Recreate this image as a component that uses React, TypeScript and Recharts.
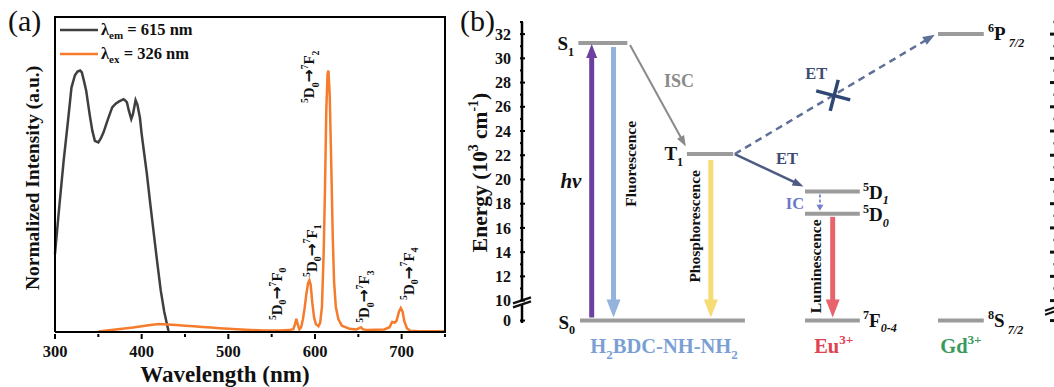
import React from 'react';
import { ComposedChart, Line, XAxis, YAxis, ReferenceLine, ReferenceDot, Legend } from 'recharts';

const SERIF = '"Liberation Serif", "Times New Roman", Times, serif';

// ---------------- Panel (a): spectra ----------------
const excitationWavelength = [300, 305, 310, 315, 319, 323, 326, 329, 331, 334, 336, 340, 343, 346, 350, 353, 356, 361, 366, 370, 374, 377, 379, 381, 383, 385, 388, 390, 393, 395, 398, 400, 403, 406, 410, 414, 418, 422, 426, 429, 431];
const excitationIntensity = [24.8, 40, 54.4, 67, 77.6, 81.5, 82.7, 83, 82.4, 79, 76.6, 69, 64, 60.7, 60.2, 61.5, 63.4, 67.5, 71.3, 72.5, 73.2, 73.6, 73.9, 73.5, 72.9, 70.5, 67.6, 69.2, 73.6, 72.3, 68, 62.8, 56.5, 50.2, 40.5, 31.2, 22, 13.2, 6.5, 2.7, 0.3];

const emissionWavelength = [350, 360, 370, 380, 390, 400, 410, 420, 430, 440, 450, 460, 470, 480, 490, 500, 520, 540, 560, 570, 575, 577, 578.5, 580, 582, 584, 586, 588, 590, 592, 593.5, 595, 597, 599, 601, 604, 606, 608, 610, 611.5, 613, 614.5, 615.5, 617, 619, 620.5, 622, 624, 627, 631, 640, 648, 651, 653, 655, 660, 680, 686, 689, 692, 694, 697, 699, 701, 703, 706, 710, 720, 735, 750];
const emissionIntensity = [0.2, 0.5, 0.8, 1.1, 1.4, 1.8, 2.2, 2.5, 2.4, 2.2, 2.0, 1.8, 1.6, 1.4, 1.2, 1.0, 0.7, 0.5, 0.5, 0.6, 0.9, 2.5, 4.2, 2.5, 0.8, 1.5, 4, 7.5, 12, 15.5, 16.4, 15, 9, 4.5, 2.5, 1.8, 3, 8, 25, 45, 70, 82, 83, 75, 50, 30, 16, 8, 4, 2, 1, 0.8, 1.2, 1.5, 0.9, 0.6, 0.8, 1.5, 3.2, 3.0, 3.5, 6.5, 7.6, 6.5, 3.5, 1.2, 0.4, 0.2, 0.2, 0.2];

const xTicksA = [300, 350, 400, 450, 500, 550, 600, 650, 700, 750];
const xTickLabelsA = ['300', '', '400', '', '500', '', '600', '', '700', ''];
const xDomainA = [300, 750];
const yDomainA = [0, 100];

const seriesNames = ['λem = 615 nm', 'λex = 326 nm'];
const seriesSub = ['em', 'ex'];
const seriesValue = ['615 nm', '326 nm'];
const seriesColors = ['#3f3f3f', '#f47c2c'];

// transition annotations 5D0 -> 7FJ (anchor = bottom of label, data coords)
const peakFinalJ = ['0', '1', '2', '3', '4'];
const peakLabelWavelength = [556, 596, 593.3, 657, 708];
const peakLabelIntensity = [3.8, 17.5, 72.7, 2.9, 10.2];

const excitationData = excitationWavelength.map((x, i) => ({ x, v: excitationIntensity[i] }));
const emissionData = emissionWavelength.map((x, i) => ({ x, v: emissionIntensity[i] }));

// ---------------- Panel (b): energy levels ----------------
const GROUND = 8.35; // axis position of the "0" level below the break
const yPlot = (e: number) => (e === 0 ? GROUND : e);

const energyMajorTicks = [0, 10, 12, 14, 16, 18, 20, 22, 24, 26, 28, 30, 32];
const energyMinorTicks = [11, 13, 15, 17, 19, 21, 23, 25, 27, 29, 31, 33];
const yTicksB = [...energyMajorTicks.map(yPlot), ...energyMinorTicks].sort((a, b) => a - b);

const levelNames = ['S1', 'S0', 'T1', '5D1', '5D0', '7F0-4', '6P7/2', '8S7/2'];
const levelEnergy = [31.26, 0, 22.1, 19.0, 17.16, 0, 32.0, 0];
const levelStart = [10.6, 10.9, 31.0, 53.2, 53.2, 53.2, 78.2, 78.2];
const levelEnd = [19.8, 41.9, 39.7, 63.5, 63.5, 63.5, 86.8, 86.8];

const transitionNames = ['hv', 'Fluorescence', 'ISC', 'Phosphorescence', 'ET', 'ET-Gd', 'IC', 'Luminescence'];
const transitionFromX = [13.1, 17.2, 20.3, 35.5, 40.0, 40.0, 56.0, 58.4];
const transitionFromE = [0, 31.26, 31.1, 22.1, 22.1, 22.1, 19.0, 17.16];
const transitionToX = [13.1, 17.2, 30.8, 35.5, 52.9, 77.6, 56.0, 58.4];
const transitionToE = [31.26, 0, 22.72, 0, 19.42, 31.94, 17.16, 0];

type Seg = { t: string; v?: 'sup' | 'sub'; i?: boolean; f?: string; s?: number };

function Rich({ segs, fs, sub = 0.3 }: { segs: Seg[]; fs: number; sub?: number }) {
  let cur = 0;
  return (
    <>
      {segs.map((s, k) => {
        const target = s.v === 'sup' ? -0.42 * fs : s.v === 'sub' ? sub * fs : 0;
        const dy = target - cur;
        cur = target;
        return (
          <tspan
            key={k}
            dy={dy}
            fontSize={(s.v ? fs * 0.64 : fs) * (s.s ?? 1)}
            fontStyle={s.i ? 'italic' : undefined}
            fontFamily={s.f}
          >
            {s.t}
          </tspan>
        );
      })}
    </>
  );
}

type TextSpec = {
  segs: Seg[];
  fs: number;
  color?: string;
  anchor?: 'start' | 'middle' | 'end';
  dx?: number;
  dy?: number;
  rotate?: boolean;
  italic?: boolean;
  sub?: number;
};

const textShape = (spec: TextSpec) => (p: any) => {
  const x = p.cx + (spec.dx ?? 0);
  const y = p.cy + (spec.dy ?? 0);
  return (
    <text
      x={x}
      y={y}
      transform={spec.rotate ? `rotate(-90 ${x} ${y})` : undefined}
      textAnchor={spec.anchor ?? 'start'}
      fill={spec.color ?? '#111'}
      fontFamily={SERIF}
      fontWeight="bold"
      fontStyle={spec.italic ? 'italic' : undefined}
    >
      <Rich segs={spec.segs} fs={spec.fs} sub={spec.sub} />
    </text>
  );
};

const arrowShape =
  (color: string, w: number, headLen: number, headW: number, startGap = 0, endGap = 0, dash?: string) =>
  (p: any) => {
    const { x1, y1, x2, y2 } = p;
    const dx = x2 - x1;
    const dy = y2 - y1;
    const L = Math.hypot(dx, dy) || 1;
    const ux = dx / L;
    const uy = dy / L;
    const sx = x1 + ux * startGap;
    const sy = y1 + uy * startGap;
    const tx = x2 - ux * endGap;
    const ty = y2 - uy * endGap;
    const bx = tx - ux * headLen;
    const by = ty - uy * headLen;
    const nx = -uy;
    const ny = ux;
    return (
      <g>
        <line x1={sx} y1={sy} x2={bx + ux} y2={by + uy} stroke={color} strokeWidth={w} strokeDasharray={dash} />
        <polygon
          points={`${tx},${ty} ${bx + (nx * headW) / 2},${by + (ny * headW) / 2} ${bx - (nx * headW) / 2},${by - (ny * headW) / 2}`}
          fill={color}
        />
      </g>
    );
  };

const arrowStyles = [
  arrowShape('#6a40a0', 5, 14, 11, 3, 1),
  arrowShape('#93b3da', 5, 18, 14, 4, 3),
  arrowShape('#8a8a8a', 2, 11, 8),
  arrowShape('#f5dc74', 5, 18, 14, 6, 3),
  arrowShape('#4e5c84', 2.5, 11, 8),
  arrowShape('#5e6f98', 2.5, 12, 9, 0, 0, '7 5'),
  arrowShape('#7380cc', 1.8, 6, 7, 3, 3, '3 2'),
  arrowShape('#e8646c', 5, 18, 14, 3, 3),
];

const peakSegs = (j: string): Seg[] => [
  { t: '5', v: 'sup' },
  { t: 'D' },
  { t: '0', v: 'sub' },
  { t: '→', f: '"DejaVu Sans", sans-serif', s: 1.05 },
  { t: '7', v: 'sup' },
  { t: 'F' },
  { t: j, v: 'sub' },
];

// plot-box geometry of panel (a)
const PLOT_A = { left: 55, top: 17, right: 445, bottom: 332 };

const XTickA = (props: any) => {
  const { x, y, payload } = props;
  const label = xTickLabelsA[xTicksA.indexOf(payload.value)] ?? '';
  const major = label !== '';
  return (
    <g>
      <line x1={x} x2={x} y1={y} y2={y + (major ? 5 : 3)} stroke="#000" strokeWidth={2} />
      {major && (
        <text x={x} y={y + 23} textAnchor="middle" fontFamily={SERIF} fontWeight="bold" fontSize={16.5} fill="#111">
          {label}
        </text>
      )}
    </g>
  );
};

const LeftTickB = (props: any) => {
  const { x, y, payload } = props;
  const v = payload.value;
  const isGround = Math.abs(v - GROUND) < 1e-6;
  const major = isGround || v % 2 === 0;
  const label = isGround ? '0' : major ? String(v) : '';
  return (
    <g>
      <line x1={x} x2={x + (major ? 5 : 3)} y1={y} y2={y} stroke="#000" strokeWidth={2} />
      {label && (
        <text x={x - 9} y={y} dy="0.35em" textAnchor="end" fontFamily={SERIF} fontWeight="bold" fontSize={16} fill="#111">
          {label}
        </text>
      )}
    </g>
  );
};

const RightTickB = (props: any) => {
  const { x, y, payload } = props;
  const v = payload.value;
  const isGround = Math.abs(v - GROUND) < 1e-6;
  const major = isGround || v % 2 === 0;
  return <line x1={x} x2={x - (major ? 6 : 2.5)} y1={y} y2={y} stroke="#111" strokeWidth={major ? 3 : 2.5} />;
};

const LegendA = (props: any) => {
  const payload = (props.payload ?? []).filter((p: any) => p.type !== 'none');
  return (
    <div style={{ fontFamily: SERIF, fontWeight: 'bold', fontSize: 16.5, color: '#111' }}>
      {payload.map((p: any, i: number) => (
        <div key={i} style={{ display: 'flex', alignItems: 'center', height: 24 }}>
          <svg width={38} height={6} style={{ display: 'block' }}>
            <line x1={0} y1={3} x2={38} y2={3} stroke={p.color} strokeWidth={2.5} />
          </svg>
          <span style={{ marginLeft: 3, whiteSpace: 'nowrap', lineHeight: '24px' }}>
            λ<sub style={{ fontSize: 11, verticalAlign: '-4px', lineHeight: 0 }}>{seriesSub[i]}</sub> = {seriesValue[i]}
          </span>
        </div>
      ))}
    </div>
  );
};

// x-axis title; the axis viewBox also gives the plot's horizontal extent,
// which is used to close the box (top and right border) of panel (a)
const XLabelA = (props: any) => {
  const vb = props.viewBox;
  const right = vb.x + vb.width;
  return (
    <g>
      <path
        d={`M ${vb.x} ${PLOT_A.top} L ${right} ${PLOT_A.top} L ${right} ${vb.y}`}
        fill="none"
        stroke="#000"
        strokeWidth={2}
        strokeLinecap="square"
      />
      <text x={vb.x + vb.width / 2 - 25} y={vb.y + 50} textAnchor="middle" fontFamily={SERIF} fontWeight="bold" fontSize={23} fill="#111">
        Wavelength (nm)
      </text>
    </g>
  );
};

const YLabelA = (props: any) => {
  const vb = props.viewBox;
  const x = vb.x - 15;
  const y = vb.y + vb.height / 2 + 3.5;
  return (
    <text x={x} y={y} transform={`rotate(-90 ${x} ${y})`} textAnchor="middle" fontFamily={SERIF} fontWeight="bold" fontSize={19.5} fill="#111">
      Normalized Intensity (a.u.)
    </text>
  );
};

const YLabelB = (props: any) => {
  const vb = props.viewBox;
  const x = vb.x + 27;
  const y = vb.y + vb.height / 2;
  return (
    <text x={x} y={y} transform={`rotate(-90 ${x} ${y})`} textAnchor="middle" fontFamily={SERIF} fontWeight="bold" fill="#111">
      <Rich
        fs={21.5}
        segs={[{ t: 'Energy (10' }, { t: '3', v: 'sup' }, { t: ' cm' }, { t: '-1', v: 'sup' }, { t: ')' }]}
      />
    </text>
  );
};

const breakShape = (p: any) => {
  const { cx, cy } = p;
  return (
    <g>
      <polygon points={`${cx - 9},${cy + 1} ${cx + 9},${cy - 5} ${cx + 9},${cy - 1} ${cx - 9},${cy + 5}`} fill="#fff" />
      <line x1={cx - 9} y1={cy + 1} x2={cx + 9} y2={cy - 5} stroke="#111" strokeWidth={2.2} />
      <line x1={cx - 9} y1={cy + 5} x2={cx + 9} y2={cy - 1} stroke="#111" strokeWidth={2.2} />
    </g>
  );
};

const crossShape = (p: any) => {
  const { cx, cy } = p;
  return (
    <g stroke="#2f4775" strokeWidth={3.5} strokeLinecap="butt">
      <line x1={cx - 17} y1={cy - 3} x2={cx + 17} y2={cy + 6} />
      <line x1={cx + 5} y1={cy - 14} x2={cx - 3} y2={cy + 17} />
    </g>
  );
};

const levelLabelSpecs: TextSpec[] = [
  { segs: [{ t: 'S' }, { t: '1', v: 'sub' }], fs: 19, anchor: 'end', dy: 7 },
  { segs: [{ t: 'S' }, { t: '0', v: 'sub' }], fs: 19, anchor: 'end', dy: 8 },
  { segs: [{ t: 'T' }, { t: '1', v: 'sub' }], fs: 19, anchor: 'end', dy: 6 },
  { segs: [{ t: '5', v: 'sup' }, { t: 'D' }, { t: '1', v: 'sub', i: true }], fs: 19, dy: 7 },
  { segs: [{ t: '5', v: 'sup' }, { t: 'D' }, { t: '0', v: 'sub', i: true }], fs: 19, dy: 7 },
  { segs: [{ t: '7', v: 'sup' }, { t: 'F' }, { t: '0-4', v: 'sub', i: true }], fs: 19, dy: 6 },
  { segs: [{ t: '6', v: 'sup' }, { t: 'P' }, { t: ' 7/2', v: 'sub', i: true }], fs: 19, dy: 6, sub: 0.38 },
  { segs: [{ t: '8', v: 'sup' }, { t: 'S' }, { t: ' 7/2', v: 'sub', i: true }], fs: 19, dy: 6, sub: 0.38 },
];
const levelLabelX = [9.8, 10.0, 30.3, 64.1, 64.1, 64.1, 87.6, 87.6];

function PanelA() {
  return (
    <ComposedChart
      width={460}
      height={387}
      margin={{ top: PLOT_A.top, right: 460 - PLOT_A.right, bottom: 25, left: PLOT_A.left - 1 }}
      data={emissionData}
    >
      <XAxis
        type="number"
        dataKey="x"
        domain={xDomainA}
        ticks={xTicksA}
        interval={0}
        tickSize={0}
        tickLine={false}
        tick={(p: any) => <XTickA {...p} />}
        axisLine={{ stroke: '#000', strokeWidth: 2 }}
        height={30}
        label={(p: any) => <XLabelA {...p} />}
      />
      <YAxis
        type="number"
        domain={yDomainA}
        width={1}
        tick={false}
        tickLine={false}
        axisLine={{ stroke: '#000', strokeWidth: 2 }}
        label={(p: any) => <YLabelA {...p} />}
      />
      <Line
        data={excitationData}
        dataKey="v"
        name={seriesNames[0]}
        type="linear"
        stroke={seriesColors[0]}
        strokeWidth={2.5}
        dot={false}
        isAnimationActive={false}
      />
      <Line
        data={emissionData}
        dataKey="v"
        name={seriesNames[1]}
        type="linear"
        stroke={seriesColors[1]}
        strokeWidth={2.5}
        dot={false}
        isAnimationActive={false}
      />
      {peakFinalJ.map((j, i) => (
        <ReferenceDot
          key={j}
          x={peakLabelWavelength[i]}
          y={peakLabelIntensity[i]}
          r={1}
          shape={textShape({ segs: peakSegs(j), fs: 15, rotate: true, dx: 5 })}
        />
      ))}
      <Legend
        layout="vertical"
        align="center"
        verticalAlign="middle"
        wrapperStyle={{ left: 60, top: 18, width: 'auto', height: 'auto' }}
        content={(p: any) => <LegendA {...p} />}
      />
    </ComposedChart>
  );
}

function PanelB() {
  const rows = levelNames.map((n, i) => ({ x: levelStart[i], e: yPlot(levelEnergy[i]) }));
  return (
    <ComposedChart width={600} height={387} margin={{ top: 22, right: 0, bottom: 64, left: 0 }} data={rows}>
      <XAxis type="number" dataKey="x" domain={[0, 100]} hide allowDataOverflow />
      <YAxis
        type="number"
        domain={[8.15, 33]}
        ticks={yTicksB}
        interval={0}
        width={62}
        tickSize={0}
        tickLine={false}
        tick={(p: any) => <LeftTickB {...p} />}
        axisLine={{ stroke: '#000', strokeWidth: 2.5 }}
        allowDataOverflow
        label={(p: any) => <YLabelB {...p} />}
      />
      <YAxis
        yAxisId="r"
        orientation="right"
        type="number"
        domain={[8.15, 33]}
        ticks={yTicksB}
        interval={0}
        width={6}
        tickSize={0}
        tickLine={false}
        tick={(p: any) => <RightTickB {...p} />}
        axisLine={false}
        allowDataOverflow
      />
      <ReferenceDot x={0} y={9.85} r={1} shape={breakShape} />
      <ReferenceDot yAxisId="r" x={100} y={9.25} r={1} shape={breakShape} />

      {levelNames.map((n, i) => (
        <ReferenceLine
          key={n}
          segment={[
            { x: levelStart[i], y: yPlot(levelEnergy[i]) },
            { x: levelEnd[i], y: yPlot(levelEnergy[i]) },
          ]}
          stroke="#9b9b9b"
          strokeWidth={4}
        />
      ))}

      {transitionNames.map((n, i) => (
        <ReferenceLine
          key={n}
          segment={[
            { x: transitionFromX[i], y: yPlot(transitionFromE[i]) },
            { x: transitionToX[i], y: yPlot(transitionToE[i]) },
          ]}
          shape={arrowStyles[i]}
        />
      ))}

      <ReferenceDot x={58.5} y={27.07} r={1} shape={crossShape} />

      {levelNames.map((n, i) => (
        <ReferenceDot key={'l' + n} x={levelLabelX[i]} y={yPlot(levelEnergy[i])} r={1} shape={textShape(levelLabelSpecs[i])} />
      ))}

      <ReferenceDot x={26.7} y={GROUND} r={1} shape={textShape({ segs: [{ t: 'H' }, { t: '2', v: 'sub' }, { t: 'BDC-NH-NH' }, { t: '2', v: 'sub' }], fs: 20.5, color: '#7b9fd4', anchor: 'middle', dy: 32 })} />
      <ReferenceDot x={58.6} y={GROUND} r={1} shape={textShape({ segs: [{ t: 'Eu' }, { t: '3+', v: 'sup' }], fs: 20.5, color: '#e0434f', anchor: 'middle', dy: 32 })} />
      <ReferenceDot x={82.5} y={GROUND} r={1} shape={textShape({ segs: [{ t: 'Gd' }, { t: '3+', v: 'sup' }], fs: 20.5, color: '#3a9a5c', anchor: 'middle', dy: 32 })} />

      <ReferenceDot x={29.5} y={28.14} r={1} shape={textShape({ segs: [{ t: 'ISC' }], fs: 18, color: '#8a8a8a', anchor: 'middle', dy: 6 })} />
      <ReferenceDot x={55.3} y={28.8} r={1} shape={textShape({ segs: [{ t: 'ET' }], fs: 16.5, color: '#3e4c74', anchor: 'middle', dy: 6 })} />
      <ReferenceDot x={49.8} y={21.8} r={1} shape={textShape({ segs: [{ t: 'ET' }], fs: 16.5, color: '#3e4c74', anchor: 'middle', dy: 6 })} />
      <ReferenceDot x={51.3} y={18.07} r={1} shape={textShape({ segs: [{ t: 'IC' }], fs: 16.5, color: '#6b77c9', anchor: 'middle', dy: 6 })} />
      <ReferenceDot x={9.2} y={19.9} r={1} shape={textShape({ segs: [{ t: 'hv' }], fs: 21, italic: true, anchor: 'middle', dy: 7 })} />

      <ReferenceDot x={20.5} y={21.29} r={1} shape={textShape({ segs: [{ t: 'Fluorescence' }], fs: 15.5, rotate: true, anchor: 'middle', dx: 5 })} />
      <ReferenceDot x={32.5} y={16.13} r={1} shape={textShape({ segs: [{ t: 'Phosphorescence' }], fs: 15.5, rotate: true, anchor: 'middle', dx: 5 })} />
      <ReferenceDot x={55.3} y={12.83} r={1} shape={textShape({ segs: [{ t: 'Luminescence' }], fs: 15.5, rotate: true, anchor: 'middle', dx: 5 })} />
    </ComposedChart>
  );
}

export default function App() {
  return (
    <div style={{ position: 'absolute', left: 0, top: 0, width: 1054, height: 387, overflow: 'hidden', background: '#fff' }}>
      <div style={{ position: 'absolute', left: 0, top: 0 }}>
        <PanelA />
      </div>
      <div style={{ position: 'absolute', left: 460, top: 0 }}>
        <PanelB />
      </div>
      <div style={{ position: 'absolute', left: 8, top: 6, fontFamily: SERIF, fontSize: 30, lineHeight: '30px', color: '#111' }}>(a)</div>
      <div style={{ position: 'absolute', left: 460, top: 6, fontFamily: SERIF, fontSize: 30, lineHeight: '30px', color: '#111' }}>(b)</div>
    </div>
  );
}
